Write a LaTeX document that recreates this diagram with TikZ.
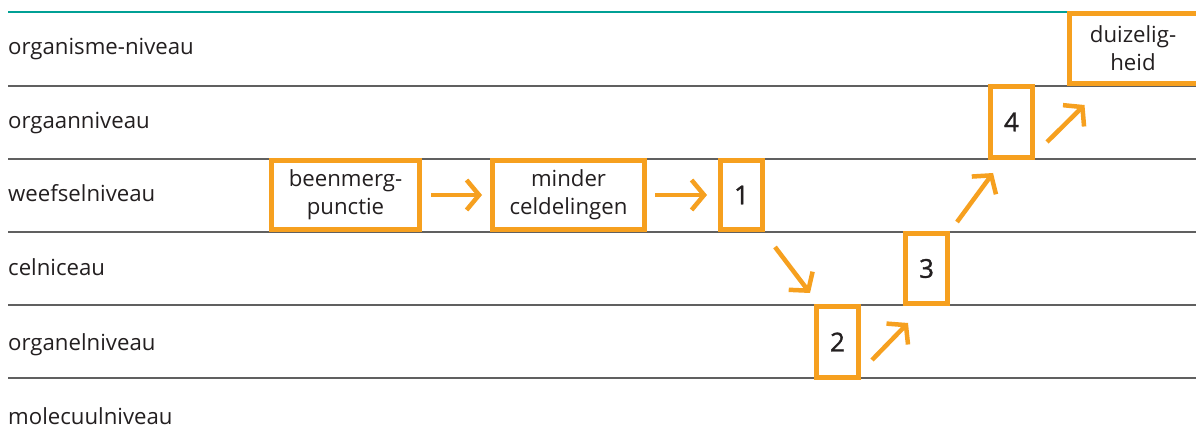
\documentclass[tikz,border=0pt]{standalone}
\usepackage{fontspec}
\setmainfont{Open Sans}
\usetikzlibrary{arrows.meta}
\definecolor{orng}{HTML}{F6A01F}
\definecolor{teal1}{HTML}{00A095}
\definecolor{gline}{HTML}{606060}
\definecolor{txt}{HTML}{231F20}
\tikzset{
  lvl/.style={anchor=base west, inner sep=0pt, text=txt, font=\fontsize{22.2}{26}\selectfont},
  sep/.style={draw=gline, line width=1.6pt},
  topsep/.style={draw=teal1, line width=2.2pt},
  obox/.style={draw=orng, line width=5pt, fill=white, inner sep=0pt, text=txt, align=center,
    font=\fontsize{22.2}{28}\selectfont},
  numbox/.style={obox, minimum width=42pt, font=\fontsize{26}{28}\selectfont\addfontfeature{FakeBold=1.2}},
  arr/.style={draw=orng, line width=4.5pt, -{Straight Barb[length=12.5pt,width=30pt]}}
}
\begin{document}
\begin{tikzpicture}[x=1pt,y=-1pt]
\useasboundingbox (0,0) rectangle (1196,446);
\clip (0,0) rectangle (1196,446);
\fill[white] (0,0) rectangle (1196,446);
% separators
\coordinate (l0a) at (8,12);   \coordinate (l0b) at (1196,12);
\coordinate (l1a) at (8,86);   \coordinate (l1b) at (1196,86);
\coordinate (l2a) at (8,159);  \coordinate (l2b) at (1196,159);
\coordinate (l3a) at (8,232);  \coordinate (l3b) at (1196,232);
\coordinate (l4a) at (8,305);  \coordinate (l4b) at (1196,305);
\coordinate (l5a) at (8,378);  \coordinate (l5b) at (1196,378);
\draw[topsep] (l0a) -- (l0b);
\draw[sep] (l1a) -- (l1b);
\draw[sep] (l2a) -- (l2b);
\draw[sep] (l3a) -- (l3b);
\draw[sep] (l4a) -- (l4b);
\draw[sep] (l5a) -- (l5b);
% level labels
\node[lvl] (t1) at (8,55) {organisme-niveau};
\node[lvl] (t2) at (8,128.5) {orgaanniveau};
\node[lvl] (t3) at (8,202) {weefselniveau};
\node[lvl] (t4) at (8,276) {celniceau};
\node[lvl] (t5) at (8,350) {organelniveau};
\node[lvl] (t6) at (8,424) {molecuulniveau};
% boxes
\node[obox, minimum width=148pt, minimum height=69pt] (bm) at (345.5,195) {beenmerg-\\punctie};
\node[obox, minimum width=152pt, minimum height=69pt] (md) at (568.5,195) {minder\\celdelingen};
\node[numbox, minimum height=69pt] (n1) at (741.5,195) {1};
\node[numbox, minimum height=71pt] (n2) at (837.5,342) {2};
\node[numbox, minimum height=70pt] (n3) at (926.5,268.5) {3};
\node[numbox, minimum height=71pt] (n4) at (1011.5,122) {4};
\node[obox, minimum width=159pt, minimum height=70pt] (dz) at (1148.5,48.5)
  {\hspace*{-31pt}duizelig-\\\hspace*{-31pt}heid};
% arrows
\draw[arr, shorten <=9pt, shorten >=8pt] (bm.east) -- (md.west);
\draw[arr, shorten <=8pt, shorten >=11pt] (md.east) -- (n1.west);
\draw[arr] ([shift={(10,15)}]n1.south east) -- ([shift={(-4,-11)}]n2.north west);
\draw[arr] ([shift={(11,18)}]n2.east) -- ([shift={(5,17)}]n3.south west);
\draw[arr] ([shift={(7,-9)}]n3.north east) -- ([shift={(5,13)}]n4.south west);
\draw[arr] ([shift={(12,20)}]n4.east) -- ([shift={(18,19)}]dz.south west);
\end{tikzpicture}
\end{document}
